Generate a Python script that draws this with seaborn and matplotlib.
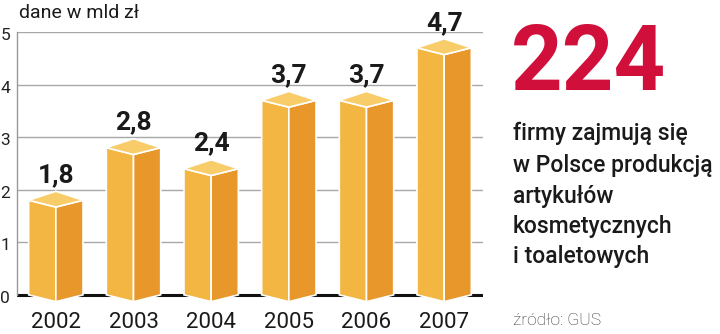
import matplotlib
matplotlib.use("Agg")
import matplotlib.pyplot as plt
import seaborn as sns
import pandas as pd
from matplotlib.patches import Polygon
from matplotlib.transforms import ScaledTranslation, offset_copy

years = ["2002", "2003", "2004", "2005", "2006", "2007"]
values = [1.8, 2.8, 2.4, 3.7, 3.7, 4.7]
value_labels = ["1,8", "2,8", "2,4", "3,7", "3,7", "4,7"]
yticks = [0, 1, 2, 3, 4, 5]
unit_label = "dane w mld zł"
big_number = "224"
side_lines = ["firmy zajmują się", "w Polsce produkcją", "artykułów",
              "kosmetycznych", "i toaletowych"]
source = "źródło: GUS"

C_LEFT = "#F3B642"
C_RIGHT = "#E8972B"
C_TOP = "#F8CC68"
C_RED = "#D0103A"

sns.set_theme(style="white")
plt.rcParams["font.family"] = ["Roboto", "DejaVu Sans"]

df = pd.DataFrame({"year": years, "value": values})

fig = plt.figure(figsize=(7.2, 3.34), dpi=100)
ax = fig.add_axes([17/720, (334-308)/334, 466/720, 276/334])

sns.barplot(data=df, x="year", y="value", color=C_LEFT, width=0.7,
            saturation=1, ax=ax, zorder=3, linewidth=0)

ax.set_xlim(-0.5, 5.5)
ax.set_ylim(-0.25, 5.0)

up = 0.17
down = 0.13
for p, lab in zip(ax.patches, value_labels):
    xl = p.get_x()
    w = p.get_width()
    v = p.get_height()
    xr = xl + w
    xm = xl + w / 2
    left = Polygon([(xl, v), (xm, v - down), (xm, -down), (xl, 0)],
                   closed=True, fc=C_LEFT, ec="white", lw=1.2, zorder=4)
    right = Polygon([(xm, v - down), (xr, v), (xr, 0), (xm, -down)],
                    closed=True, fc=C_RIGHT, ec="white", lw=1.2, zorder=4)
    top = Polygon([(xl, v), (xm, v + up), (xr, v), (xm, v - down)],
                  closed=True, fc=C_TOP, ec="white", lw=1.2, zorder=5)
    for poly in (left, right, top):
        ax.add_patch(poly)
    tr = offset_copy(ax.transData, fig=fig, x=0, y=18, units="dots")
    ax.text(xm, v, lab, transform=tr, ha="center", va="baseline",
            fontsize=19, fontweight="bold", color="#1a1a1a", zorder=6)

for t in yticks[1:]:
    ax.axhline(t, color="#a8a8a8", lw=1.0, zorder=1)
ax.axhline(0, color="#111111", lw=2.2, zorder=2)

for s in ["top", "right", "bottom"]:
    ax.spines[s].set_visible(False)
ax.spines["left"].set_color("#999999")
ax.spines["left"].set_linewidth(1.0)
ax.spines["left"].set_bounds(0, 5)

ax.set_yticks(yticks)
ax.set_yticklabels([str(t) for t in yticks])
ax.tick_params(axis="y", length=0, pad=5, labelsize=12.5, labelcolor="#222222")
ax.tick_params(axis="x", length=0, pad=3, labelsize=16, labelcolor="#1a1a1a")
for lab in ax.get_yticklabels():
    lab.set_transform(lab.get_transform() + ScaledTranslation(0, -2/100, fig.dpi_scale_trans))
ax.set_xlabel("")
ax.set_ylabel("")

fig.text(19/720, 1 - 18/334, unit_label, ha="left", va="baseline",
         fontsize=14, color="#1a1a1a")
fig.text(511/720, 1 - 90/334, big_number, ha="left", va="baseline",
         fontsize=65, fontweight="bold", color=C_RED)
baselines = [140, 172, 203, 233, 263]
for line, b in zip(side_lines, baselines):
    fig.text(513/720, 1 - b/334, line, ha="left", va="baseline",
             fontsize=16.5, fontweight="medium", color="#1a1a1a")
fig.text(513/720, 1 - 325/334, source, ha="left", va="baseline",
         fontsize=12.5, fontweight="light", color="#333333")

fig.savefig("out.png", dpi=100)
